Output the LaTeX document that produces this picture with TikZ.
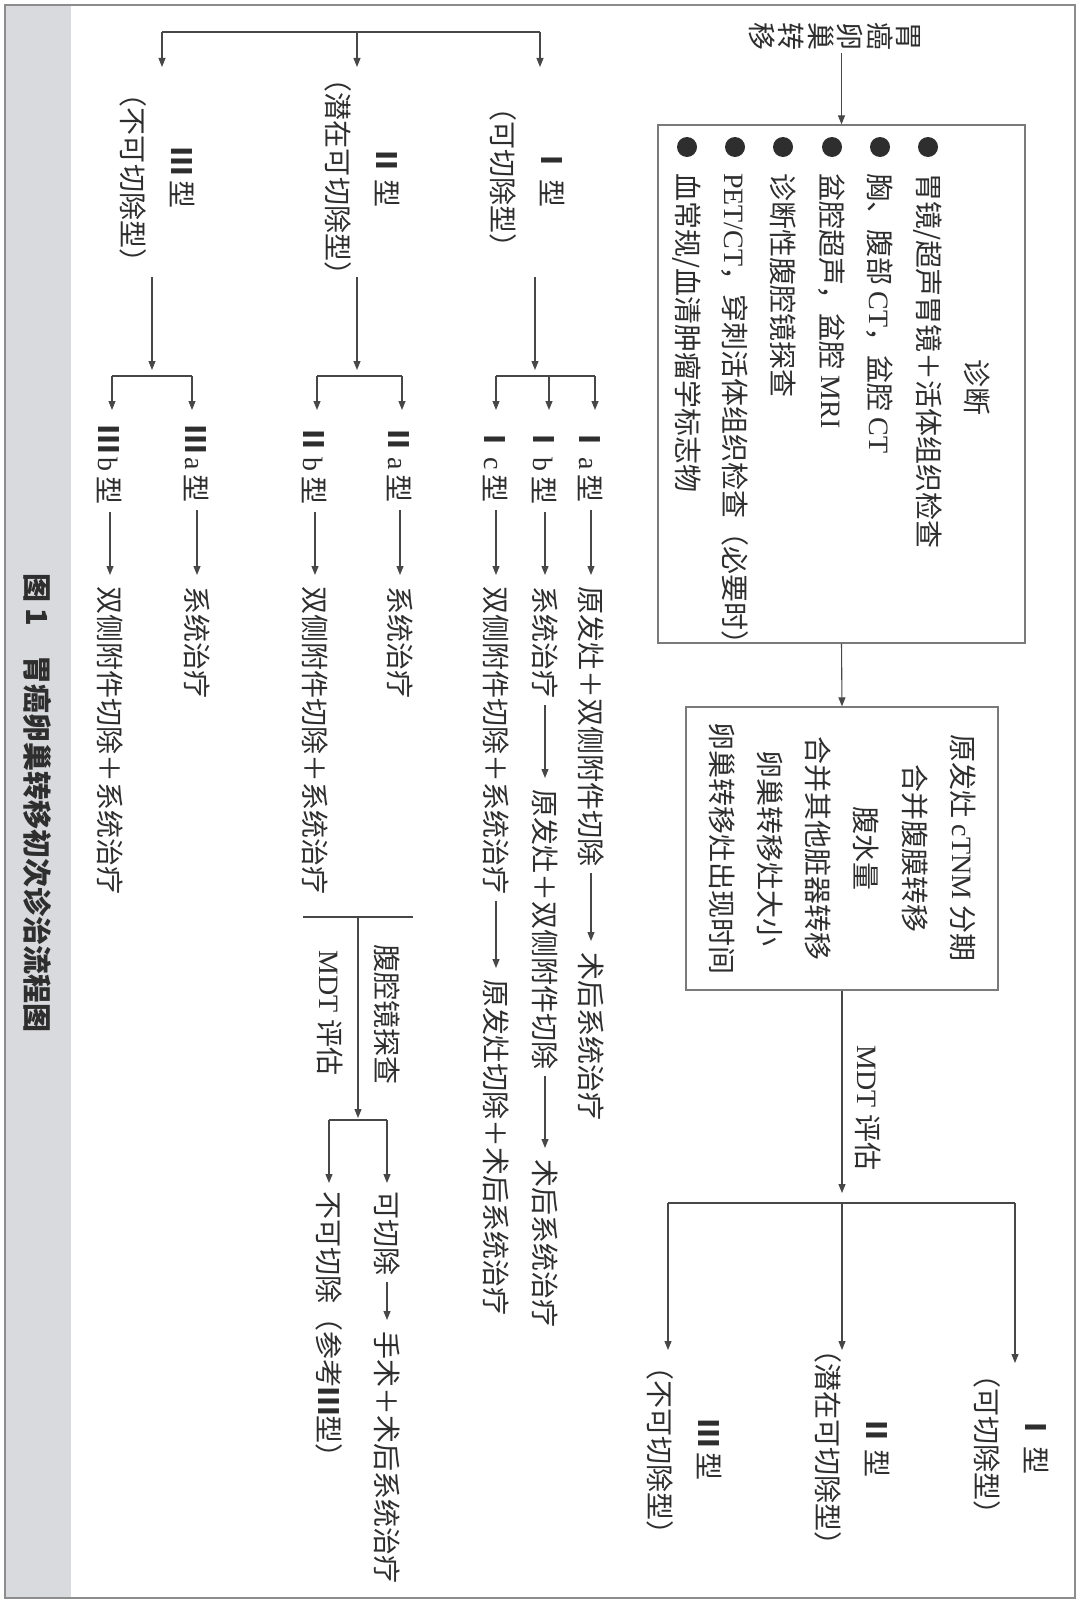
\documentclass[tikz,border=0pt]{standalone}
\usepackage{fontspec}
\setmainfont{Noto Sans CJK SC}
\newfontfamily\lat{Liberation Serif}
\newcommand\rmnum[1]{{\bfseries #1}}
\usetikzlibrary{arrows.meta}
\definecolor{tc}{HTML}{2E2E2E}
\definecolor{lc}{HTML}{474747}
\definecolor{bc}{HTML}{7A7A7A}
\definecolor{fc}{HTML}{8C8C8C}
\definecolor{gs}{HTML}{D9DADD}
\tikzset{
  txt/.style={rotate=-90, inner sep=0pt, text=tc, font=\fontsize{28pt}{34pt}\selectfont},
  st/.style={txt, anchor=west},
  hdr/.style={txt, align=center, font=\fontsize{28pt}{49pt}\selectfont},
  ln/.style={draw=lc, line width=1.1pt},
  arr/.style={ln, -{Triangle[length=9pt,width=7pt]}},
  rowarr/.style={arr, shorten <=7pt, shorten >=11pt},
  box/.style={draw=bc, line width=1.3pt, inner sep=0pt},
  dot/.style={fill=tc},
}
\begin{document}
\begin{tikzpicture}[x=1pt,y=-1pt]
\useasboundingbox (0,0) rectangle (1080,1603);
% frame and caption strip
\fill[gs] (5,5) rectangle (71,1598);
\draw[fc, line width=1.5pt] (5,5) rectangle (1075,1598);
\node[st, font=\fontsize{29pt}{31pt}\selectfont\bfseries] (cap) at (38,573) {图\ 1\quad 胃癌卵巢转移初次诊治流程图};

% ---------- right column: main path ----------
\node[txt, align=center, font=\fontsize{28pt}{29.5pt}\selectfont] (title) at (835,37) {胃\\癌\\卵\\巢\\转\\移};
\node[box, minimum width=367pt, minimum height=518pt] (diag) at (841.5,384) {};
\draw[arr, shorten <=2pt] (title.east -| diag.north) -- (diag.north);
\node[txt] (dgt) at (977,387) {诊断};
\fill[dot] (928,147) circle (10pt);
\fill[dot] (880,147) circle (10pt);
\fill[dot] (832,147) circle (10pt);
\fill[dot] (783,147) circle (10pt);
\fill[dot] (735,147) circle (10pt);
\fill[dot] (687,147) circle (10pt);
\node[st] (d1) at (928,173) {胃镜/超声胃镜＋活体组织检查};
\node[st] (d2) at (880,173) {胸、腹部 {\lat CT}，盆腔 {\lat CT}};
\node[st] (d3) at (832,173) {盆腔超声，盆腔 {\lat MRI}};
\node[st] (d4) at (783,173) {诊断性腹腔镜探查};
\node[st] (d5) at (735,173) {{\lat PET/CT}，穿刺活体组织检查（必要时）};
\node[st] (d6) at (687,173) {血常规/血清肿瘤学标志物};

\node[box, minimum width=312pt, minimum height=283pt] (b2) at (842,848.5) {};
\draw[arr] (diag.south) -- (b2.north);
\node[txt, align=center, font=\fontsize{28pt}{48.2pt}\selectfont] (b2t) at (842.5,848) {原发灶 {\lat cTNM} 分期\\合并腹膜转移\\腹水量\\合并其他脏器转移\\卵巢转移灶大小\\卵巢转移灶出现时间};

\coordinate (mtip) at (842,1193);
\draw[arr] (b2.south) -- (mtip);
\node[txt] (mdt1) at (868,1108) {{\lat MDT} 评估};
\coordinate (rb1) at (1015,1203);
\coordinate (rb2) at (842,1203);
\coordinate (rb3) at (668,1203);
\draw[ln] (rb1) -- (rb3);
\node[hdr] (r1) at (1011,1444) {\rmnum{Ⅰ}\,型\\（可切除型）};
\node[hdr] (r2) at (852,1447) {\rmnum{Ⅱ}\,型\\（潜在可切除型）};
\node[hdr] (r3) at (684,1450) {\rmnum{Ⅲ}\,型\\（不可切除型）};
\coordinate (rt1) at (1015,1363);
\coordinate (rt2) at (842,1350);
\coordinate (rt3) at (668,1350);
\draw[arr] (rb1) -- (rt1);
\draw[arr] (rb2) -- (rt2);
\draw[arr] (rb3) -- (rt3);

% ---------- left: expanded types ----------
\coordinate (lb1) at (540,32);
\coordinate (lb2) at (357,32);
\coordinate (lb3) at (162,32);
\draw[ln] (lb1) -- (lb3);
\node[hdr] (t1) at (527,177) {\rmnum{Ⅰ}\,型\\（可切除型）};
\node[hdr] (t2) at (362,177) {\rmnum{Ⅱ}\,型\\（潜在可切除型）};
\node[hdr] (t3) at (157,178) {\rmnum{Ⅲ}\,型\\（不可切除型）};
\coordinate (lt1) at (540,67);
\coordinate (lt2) at (357,67);
\coordinate (lt3) at (162,67);
\draw[arr] (lb1) -- (lt1);
\draw[arr] (lb2) -- (lt2);
\draw[arr] (lb3) -- (lt3);
% stems
\coordinate (s1a) at (535,277); \coordinate (s1b) at (535,370);
\coordinate (s2a) at (357,277); \coordinate (s2b) at (357,370);
\coordinate (s3a) at (152,277); \coordinate (s3b) at (152,370);
\draw[arr] (s1a) -- (s1b);
\draw[arr] (s2a) -- (s2b);
\draw[arr] (s3a) -- (s3b);
% sub-brackets
\coordinate (ja) at (595,376); \coordinate (jb) at (549,376); \coordinate (jc) at (496,376);
\coordinate (j2a) at (402,376); \coordinate (j2b) at (317,376);
\coordinate (j3a) at (192,376); \coordinate (j3b) at (112,376);
\draw[ln] (ja) -- (jc);
\draw[ln] (j2a) -- (j2b);
\draw[ln] (j3a) -- (j3b);

% type I rows
\node[st] (ia) at (591,425) {\rmnum{Ⅰ}\,{\lat a}\,型};
\node[st] (ia1) at (591,586) {原发灶＋双侧附件切除};
\node[st] (ia2) at (591,952) {术后系统治疗};
\node[st] (ib) at (545,425) {\rmnum{Ⅰ}\,{\lat b}\,型};
\node[st] (ib1) at (545,586) {系统治疗};
\node[st] (ib2) at (545,789) {原发灶＋双侧附件切除};
\node[st] (ib3) at (545,1159) {术后系统治疗};
\node[st] (ic) at (496,425) {\rmnum{Ⅰ}\,{\lat c}\,型};
\node[st] (ic1) at (496,586) {双侧附件切除＋系统治疗};
\node[st] (ic2) at (496,979) {原发灶切除＋术后系统治疗};
% type II rows
\node[st] (iia) at (400,425) {\rmnum{Ⅱ}\,{\lat a}\,型};
\node[st] (iia1) at (400,586) {系统治疗};
\node[st] (iib) at (315,425) {\rmnum{Ⅱ}\,{\lat b}\,型};
\node[st] (iib1) at (315,586) {双侧附件切除＋系统治疗};
% type III rows
\node[st] (iiia) at (197,425) {\rmnum{Ⅲ}\,{\lat a}\,型};
\node[st] (iiia1) at (197,586) {系统治疗};
\node[st] (iiib) at (110,425) {\rmnum{Ⅲ}\,{\lat b}\,型};
\node[st] (iiib1) at (110,586) {双侧附件切除＋系统治疗};

% branch arrows into rows
\draw[arr, shorten >=15pt] (ja) -- (ja |- ia.west);
\draw[arr, shorten >=15pt] (jb) -- (jb |- ib.west);
\draw[arr, shorten >=15pt] (jc) -- (jc |- ic.west);
\draw[arr, shorten >=15pt] (j2a) -- (j2a |- iia.west);
\draw[arr, shorten >=15pt] (j2b) -- (j2b |- iib.west);
\draw[arr, shorten >=15pt] (j3a) -- (j3a |- iiia.west);
\draw[arr, shorten >=15pt] (j3b) -- (j3b |- iiib.west);

% row arrows
\draw[rowarr] (ia.east) -- (ia1.west);
\draw[rowarr] (ia1.east) -- (ia2.west);
\draw[rowarr] (ib.east) -- (ib1.west);
\draw[rowarr] (ib1.east) -- (ib2.west);
\draw[rowarr] (ib2.east) -- (ib3.west);
\draw[rowarr] (ic.east) -- (ic1.west);
\draw[rowarr] (ic1.east) -- (ic2.west);
\draw[rowarr] (iia.east) -- (iia1.west);
\draw[rowarr] (iib.east) -- (iib1.west);
\draw[rowarr] (iiia.east) -- (iiia1.west);
\draw[rowarr] (iiib.east) -- (iiib1.west);

% type II: laparoscopy + MDT
\coordinate (m1) at (303,917); \coordinate (m2) at (413,917);
\draw[ln] (m1) -- (m2);
\coordinate (mj) at (358,917); \coordinate (mtip2) at (358,1118);
\draw[arr] (mj) -- (mtip2);
\node[txt] (lap) at (387,1014) {腹腔镜探查};
\node[txt] (mdt2) at (330,1013) {{\lat MDT} 评估};
\coordinate (mb1) at (387,1120); \coordinate (mb2) at (329,1120);
\draw[ln] (mb1) -- (mb2);
\node[st] (res) at (387,1191) {可切除};
\node[st] (res2) at (387,1331) {手术＋术后系统治疗};
\node[st] (unres) at (329,1191) {不可切除（参考\rmnum{Ⅲ}型）};
\draw[arr, shorten >=8pt] (mb1) -- (mb1 |- res.west);
\draw[arr, shorten >=8pt] (mb2) -- (mb2 |- unres.west);
\draw[rowarr] (res.east) -- (res2.west);
\end{tikzpicture}
\end{document}
